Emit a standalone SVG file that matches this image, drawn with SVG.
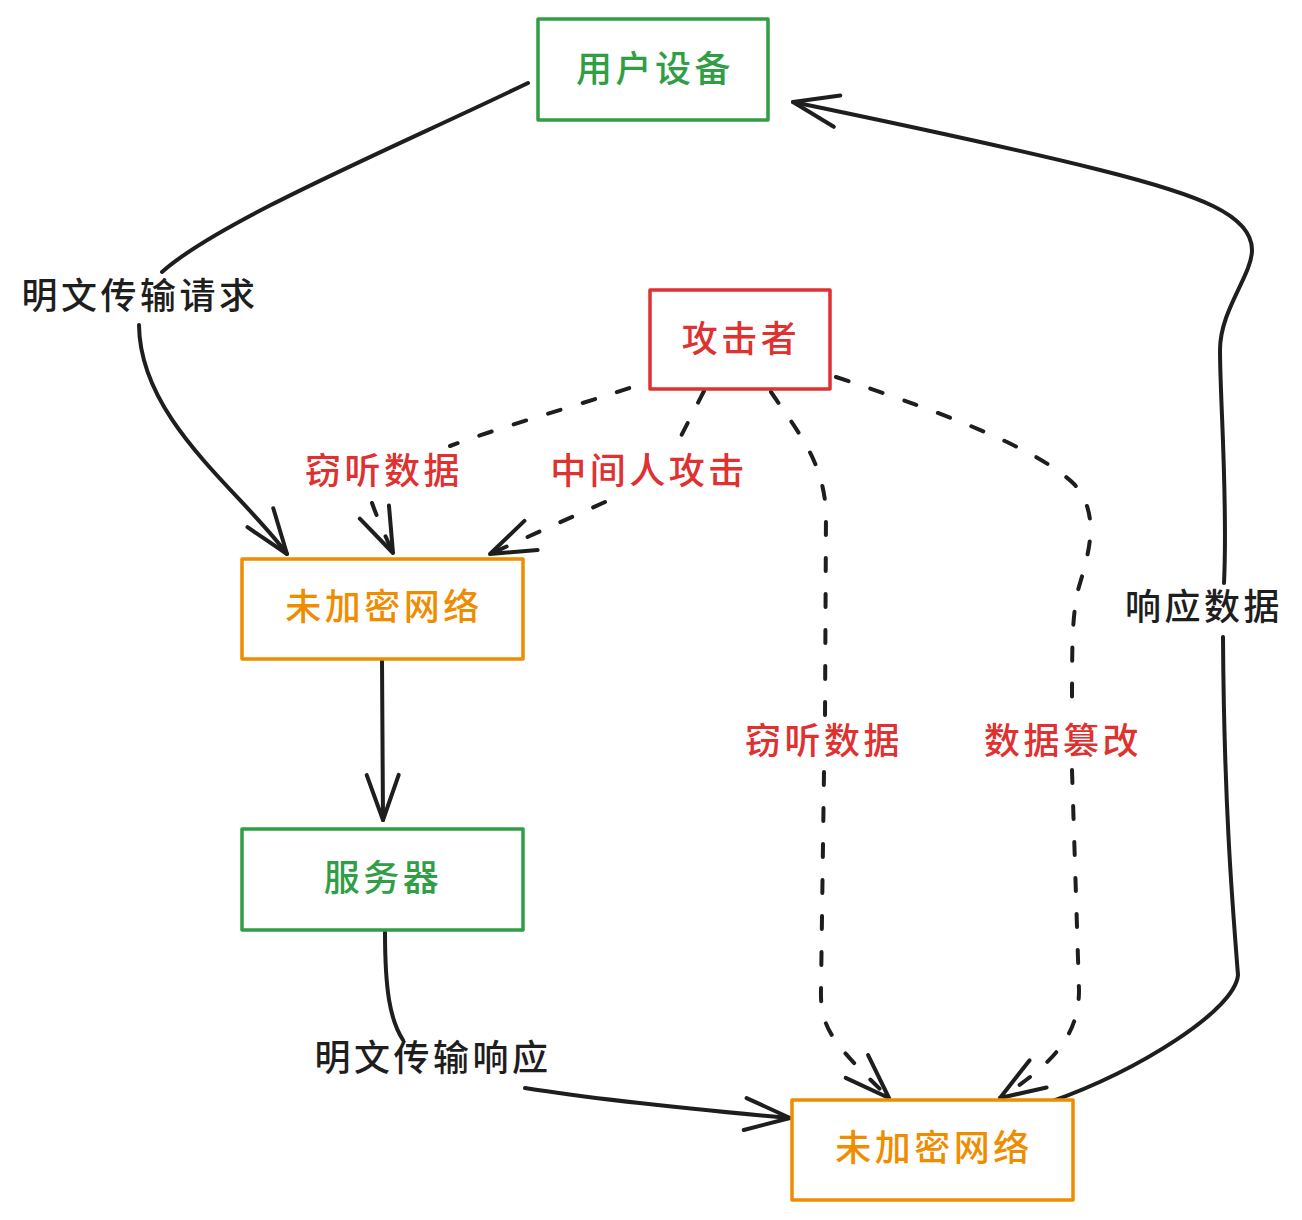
<svg xmlns="http://www.w3.org/2000/svg" width="1302" height="1220" viewBox="0 0 1302 1220">
  <defs>
    <style>
      .box { fill: #ffffff; stroke-width: 3.5; stroke-linejoin: round; }
      .green { stroke: #2f9e44; }
      .red { stroke: #e03131; }
      .orange { stroke: #f08c00; }
      .t { font-family: "Noto Sans CJK SC", "Noto Sans", sans-serif; font-size: 36px; font-weight: 500; letter-spacing: 3.5px; text-anchor: middle; dominant-baseline: central; }
      .tg { fill: #2f9e44; }
      .tr { fill: #e03131; }
      .to { fill: #f08c00; }
      .tk { fill: #1e1e1e; }
      .edge { fill: none; stroke: #1e1e1e; stroke-width: 4; stroke-linecap: round; stroke-linejoin: round; marker-end: url(#ah); }
      .dash { stroke-dasharray: 13 23; }
    </style>
    <marker id="ah" markerUnits="userSpaceOnUse" markerWidth="60" markerHeight="60" viewBox="-55 -30 60 60" refX="0" refY="0" orient="auto" overflow="visible">
      <path d="M-45,-16 L0,0 L-45,16" fill="none" stroke="#1e1e1e" stroke-width="4" stroke-linecap="round" stroke-linejoin="round"/>
    </marker>
  </defs>

  <rect width="1302" height="1220" fill="#ffffff"/>

  <g id="connectors">
    <path id="e-user-net1" class="edge" d="M528,83 C400,145 220,220 162,272 M139,325 C140,420 240,490 287,554"/>
    <path id="e-att-net1-eaves" class="edge dash" d="M663,376 C600,400 520,420 450,446 M372,503 Q378,520 393,553"/>
    <path id="e-att-net1-mitm" class="edge dash" d="M704,391 L679,440 M605,502 L490,554"/>
    <path id="e-att-net2-eaves" class="edge dash" d="M771,392 C800,435 822,460 826,510 L825,718 M824,772 L821,990 C820,1030 835,1045 889,1098"/>
    <path id="e-att-net2-tamper" class="edge dash" d="M836,377 C950,415 1040,450 1075,485 C1100,515 1090,550 1078,590 C1072,620 1072,640 1072,717 M1072,770 L1079,990 C1079,1030 1060,1060 1000,1098"/>
    <path id="e-net1-server" class="edge" d="M382,660 L383,820"/>
    <path id="e-server-net2" class="edge" d="M385,932 C385,990 390,1020 403,1040 M525,1088 C600,1100 700,1110 790,1118"/>
    <path id="e-net2-user" class="edge" d="M1050,1102 C1140,1070 1235,1010 1238,975 C1232,900 1224,800 1223,637 M1224,583 C1228,500 1220,400 1220,350 C1220,310 1252,275 1252,250 C1252,215 1200,195 1100,170 C1000,145 880,120 793,102"/>
    <text class="t tk" x="140" y="293">明文传输请求</text>
    <text class="t tr" x="384" y="468">窃听数据</text>
    <text class="t tr" x="649" y="468">中间人攻击</text>
    <text class="t tr" x="824" y="738">窃听数据</text>
    <text class="t tr" x="1063" y="738">数据篡改</text>
    <text class="t tk" x="1204" y="604">响应数据</text>
    <text class="t tk" x="433" y="1055">明文传输响应</text>
  </g>

  <g id="node-user">
    <rect class="box green" x="538" y="19" width="230" height="101"/>
    <text class="t tg" x="655" y="66">用户设备</text>
  </g>
  <g id="node-attacker">
    <rect class="box red" x="650" y="290" width="180" height="99"/>
    <text class="t tr" x="741" y="336">攻击者</text>
  </g>
  <g id="node-net1">
    <rect class="box orange" x="242" y="559" width="281" height="100"/>
    <text class="t to" x="384" y="604">未加密网络</text>
  </g>
  <g id="node-server">
    <rect class="box green" x="242" y="829" width="281" height="101"/>
    <text class="t tg" x="383" y="875">服务器</text>
  </g>
  <g id="node-net2">
    <rect class="box orange" x="792" y="1100" width="281" height="100"/>
    <text class="t to" x="934" y="1145">未加密网络</text>
  </g>
</svg>
